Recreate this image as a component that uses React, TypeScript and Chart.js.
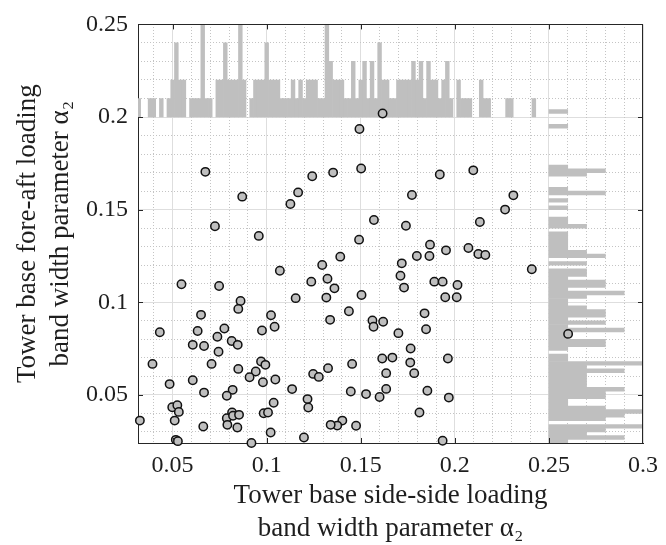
import React, { useEffect, useRef } from 'react';
import { Chart, registerables } from 'chart.js';
Chart.register(...registerables);

// ---------- axis ranges and ticks ----------
const X_MIN = 0.0316;
const X_MAX = 0.3;
const Y_MIN = 0.024;
const Y_MAX = 0.25;
const xMajorTicks = [0.05, 0.1, 0.15, 0.2, 0.25, 0.3];
const yMajorTicks = [0.05, 0.1, 0.15, 0.2, 0.25];
const MINOR_STEP = 0.01;

// ---------- scatter data ----------
const sideSideAlpha = [
  0.0674, 0.087, 0.1242, 0.1353, 0.1167, 0.1126, 0.0725, 0.0958, 0.1391, 0.1295,
  0.107, 0.1237, 0.1323, 0.136, 0.0547, 0.0747, 0.1493, 0.1502, 0.192, 0.2098,
  0.1772, 0.2311, 0.2267, 0.2133, 0.157, 0.174, 0.1491, 0.1868, 0.1953, 0.2072,
  0.1798, 0.1865, 0.2125, 0.2162, 0.1718, 0.1711, 0.1891, 0.1935, 0.2014, 0.2409,
  0.173, 0.0861, 0.0849, 0.0651, 0.1023, 0.1042, 0.0975, 0.0432, 0.0633, 0.0775,
  0.0738, 0.0814, 0.0846, 0.0607, 0.0667, 0.0744, 0.0393, 0.0707, 0.0849, 0.097,
  0.0993, 0.0942, 0.0909, 0.098, 0.1046, 0.0607, 0.0484, 0.0667, 0.0819, 0.0788,
  0.1135, 0.1217, 0.1221, 0.1247, 0.1277, 0.1326, 0.1154, 0.1317, 0.1337, 0.1437,
  0.0498, 0.0525, 0.0533, 0.0326, 0.0511, 0.0663, 0.0816, 0.0788, 0.0821, 0.0853,
  0.0791, 0.0844, 0.0984, 0.1007, 0.1037, 0.1021, 0.0517, 0.0528, 0.0919, 0.1198,
  0.1504, 0.1949, 0.201, 0.1562, 0.1568, 0.1619, 0.1839, 0.1847, 0.17, 0.1765,
  0.1614, 0.1668, 0.1763, 0.1963, 0.1454, 0.1635, 0.1784, 0.1447, 0.1528, 0.16,
  0.1635, 0.1854, 0.1968, 0.1812, 0.1402, 0.1375, 0.134, 0.1475, 0.1935, 0.1616,
  0.2602,
];
const foreAftAlpha = [
  0.1704, 0.157, 0.168, 0.17, 0.1593, 0.153, 0.141, 0.1358, 0.1246, 0.1201,
  0.117, 0.1111, 0.1127, 0.1075, 0.1097, 0.1088, 0.1935, 0.1722, 0.169, 0.1712,
  0.1579, 0.1577, 0.15, 0.1433, 0.1444, 0.1413, 0.1338, 0.1311, 0.128, 0.1293,
  0.125, 0.125, 0.126, 0.1255, 0.121, 0.1143, 0.1111, 0.1111, 0.1093, 0.1178,
  0.1079, 0.1007, 0.0964, 0.0932, 0.093, 0.0868, 0.0847, 0.0838, 0.0845, 0.0858,
  0.0814, 0.0791, 0.077, 0.077, 0.0764, 0.0733, 0.0667, 0.0667, 0.064, 0.068,
  0.0662, 0.0626, 0.0595, 0.0568, 0.0583, 0.0579, 0.0558, 0.0512, 0.0527, 0.0495,
  0.0531, 0.0477, 0.0432, 0.0613, 0.0597, 0.0644, 0.1022, 0.1025, 0.0905, 0.0951,
  0.0433, 0.0444, 0.0408, 0.0361, 0.0361, 0.0329, 0.0405, 0.0374, 0.0387, 0.0392,
  0.0338, 0.0324, 0.0401, 0.0405, 0.0457, 0.0297, 0.0257, 0.025, 0.024, 0.027,
  0.1039, 0.1027, 0.1027, 0.0901, 0.0868, 0.0895, 0.094, 0.0854, 0.0833, 0.075,
  0.0696, 0.0701, 0.0674, 0.0696, 0.0667, 0.0617, 0.0617, 0.0518, 0.0504, 0.0488,
  0.0532, 0.0522, 0.0485, 0.0405, 0.0361, 0.0334, 0.0338, 0.0333, 0.0252, 0.2019,
  0.0829,
];

// ---------- marginal histograms ----------
const HIST_BIN = 0.002;
const HIST_UNIT = 0.01; // one count in axis units
const topHistBase = 0.2;   // baseline (y) of the side-side histogram
const rightHistBase = 0.25; // baseline (x) of the fore-aft histogram
const topHistFirstCenter = 0.032;
const topHistCounts = [
  1, 0, 0, 1, 1, 0, 1, 0, 1, 2,
  4, 2, 2, 0, 1, 1, 1, 5, 1, 1,
  0, 2, 2, 4, 2, 2, 2, 5, 2, 0,
  1, 2, 2, 2, 4, 2, 2, 2, 1, 1,
  1, 2, 1, 2, 1, 2, 2, 2, 1, 1,
  5, 3, 2, 2, 2, 1, 1, 3, 1, 2,
  3, 1, 3, 1, 4, 2, 2, 1, 1, 2,
  2, 2, 2, 3, 2, 3, 1, 3, 2, 2,
  1, 2, 3, 1, 0, 2, 1, 1, 1, 0,
  0, 2, 1, 1, 0, 0, 0, 0, 1, 1,
  0, 0, 0, 0, 0, 1,
];
const rightHistFirstCenter = 0.025;
const rightHistCounts = [
  1, 4, 2, 3, 5, 0, 3, 4, 5, 3,
  1, 1, 3, 3, 4, 2, 2, 2, 2, 4,
  2, 5, 1, 1, 0, 1, 3, 3, 1, 1,
  4, 1, 3, 1, 3, 3, 2, 1, 1, 2,
  4, 1, 3, 3, 1, 2, 2, 0, 2, 0,
  3, 2, 1, 1, 1, 1, 1, 0, 2, 1,
  1, 0, 0, 1, 0, 1, 0, 3, 1, 0,
  0, 0, 2, 3, 1, 0, 0, 0, 0, 0,
  0, 0, 0, 0, 0, 1, 0, 0, 0, 1,
  0,
];

// ---------- text ----------
const xTitle = ['Tower base side-side loading', 'band width parameter \u03b1\u2082'];
const yTitle = ['Tower base fore-aft loading', 'band width parameter \u03b1\u2082'];

const FONT = "'Liberation Serif', 'Times New Roman', serif";
const TEXT = '#1e1e1e';
const AXIS = '#262626';
const MAJOR_GRID = '#dedede';
const MINOR_GRID = '#c4c4c4';
const HIST = '#bfbfbf';

const r4 = (v: number) => Math.round(v * 10000) / 10000;

function minorTicks(min: number, max: number, majors: number[]) {
  const out: { value: number }[] = [];
  for (let i = Math.ceil(min / MINOR_STEP); i * MINOR_STEP <= max + 1e-9; i++) {
    const v = r4(i * MINOR_STEP);
    if (v <= min || v >= max) continue;
    if (majors.some((m) => Math.abs(m - v) < 1e-6)) continue;
    out.push({ value: v });
  }
  return out;
}

// inward tick marks on all four sides plus the top / right frame lines
const frameAndTicks = {
  id: 'frameAndTicks',
  afterDraw(chart: any) {
    const { ctx, chartArea: a, scales } = chart;
    const L = 5;
    ctx.save();
    ctx.strokeStyle = AXIS;
    ctx.lineWidth = 1;
    ctx.beginPath();
    const top = Math.round(a.top) + 0.5;
    const right = Math.round(a.right) - 0.5;
    ctx.moveTo(Math.round(a.left), top);
    ctx.lineTo(Math.round(a.right), top);
    ctx.moveTo(right, Math.round(a.top));
    ctx.lineTo(right, Math.round(a.bottom));
    for (const v of xMajorTicks) {
      const p = Math.round(scales.x.getPixelForValue(v)) + 0.5;
      if (p < a.left + 2 || p > a.right - 2) continue;
      ctx.moveTo(p, a.bottom);
      ctx.lineTo(p, a.bottom - L);
      ctx.moveTo(p, a.top);
      ctx.lineTo(p, a.top + L);
    }
    for (const v of yMajorTicks) {
      const p = Math.round(scales.y.getPixelForValue(v)) + 0.5;
      if (p < a.top + 2 || p > a.bottom - 2) continue;
      ctx.moveTo(a.left, p);
      ctx.lineTo(a.left + L, p);
      ctx.moveTo(a.right, p);
      ctx.lineTo(a.right - L, p);
    }
    ctx.stroke();
    ctx.restore();
  },
};

export default function App() {
  const ref = useRef<HTMLCanvasElement>(null);

  useEffect(() => {
    const points = sideSideAlpha.map((x, i) => ({ x, y: foreAftAlpha[i] }));
    const topBars = topHistCounts
      .map((c, i) => ({ x: r4(topHistFirstCenter + i * HIST_BIN), y: [topHistBase, r4(topHistBase + c * HIST_UNIT)], c }))
      .filter((d) => d.c > 0)
      .map(({ x, y }) => ({ x, y }));
    const rightBars = rightHistCounts
      .map((c, i) => ({ y: r4(rightHistFirstCenter + i * HIST_BIN), x: [rightHistBase, r4(rightHistBase + c * HIST_UNIT)], c }))
      .filter((d) => d.c > 0)
      .map(({ x, y }) => ({ x, y }));

    const tickFont = { family: FONT, size: 24 };
    const titleFont = { family: FONT, size: 27 };
    const fmt = (v: number) => String(Math.round(v * 100) / 100);
    const noOffset = { offset: false };

    const chart = new Chart(ref.current as HTMLCanvasElement, {
      type: 'scatter',
      data: {
        datasets: [
          {
            type: 'scatter',
            data: points,
            xAxisID: 'x',
            yAxisID: 'y',
            backgroundColor: '#bfbfbf',
            borderColor: '#111111',
            pointRadius: 4.2,
            pointBorderWidth: 1.5,
            pointHoverRadius: 4.2,
            clip: false as any,
            order: 0,
          } as any,
          {
            type: 'bar',
            data: topBars as any,
            xAxisID: 'x',
            yAxisID: 'yh',
            backgroundColor: HIST,
            borderWidth: 0,
            barPercentage: 1,
            categoryPercentage: 1,
            grouped: false,
            order: 1,
          } as any,
          {
            type: 'bar',
            indexAxis: 'y',
            data: rightBars as any,
            xAxisID: 'xh',
            yAxisID: 'y',
            backgroundColor: HIST,
            borderWidth: 0,
            barPercentage: 1,
            categoryPercentage: 1,
            grouped: false,
            order: 2,
          } as any,
        ],
      },
      options: {
        animation: false,
        responsive: false,
        devicePixelRatio: 1,
        events: [],
        layout: { padding: { left: 0, top: 23, right: 19, bottom: 0 } },
        plugins: { legend: { display: false }, tooltip: { enabled: false } },
        scales: {
          x: {
            type: 'linear',
            axis: 'x',
            position: 'bottom',
            offset: false,
            min: X_MIN,
            max: X_MAX,
            afterBuildTicks: (s: any) => { s.ticks = xMajorTicks.map((value) => ({ value })); },
            afterFit: (s: any) => { s.height = 102; },
            ticks: { font: tickFont, color: TEXT, padding: 8, autoSkip: false, maxRotation: 0, callback: (v: any) => fmt(Number(v)) },
            grid: { ...noOffset, color: MAJOR_GRID, lineWidth: 1, drawTicks: false },
            border: { display: true, color: AXIS, width: 1 },
            title: { display: true, text: xTitle, font: titleFont, color: TEXT, padding: { top: 0, bottom: 0 } },
          },
          y: {
            type: 'linear',
            axis: 'y',
            position: 'left',
            offset: false,
            min: Y_MIN,
            max: Y_MAX,
            afterBuildTicks: (s: any) => { s.ticks = yMajorTicks.map((value) => ({ value })); },
            afterFit: (s: any) => { s.width = 138; },
            ticks: { font: tickFont, color: TEXT, padding: 10, autoSkip: false, callback: (v: any) => fmt(Number(v)) },
            grid: { ...noOffset, color: MAJOR_GRID, lineWidth: 1, drawTicks: false },
            border: { display: true, color: AXIS, width: 1 },
            title: { display: true, text: yTitle, font: titleFont, color: TEXT, padding: { top: 12, bottom: 0 } },
          },
          xm: {
            type: 'linear',
            axis: 'x',
            position: 'top',
            offset: false,
            min: X_MIN,
            max: X_MAX,
            afterBuildTicks: (s: any) => { s.ticks = minorTicks(X_MIN, X_MAX, xMajorTicks); },
            afterFit: (s: any) => { s.height = 0; },
            ticks: { display: false },
            grid: { ...noOffset, color: MINOR_GRID, lineWidth: 1, drawTicks: false },
            border: { display: false, dash: [1, 2] },
          },
          ym: {
            type: 'linear',
            axis: 'y',
            position: 'right',
            offset: false,
            min: Y_MIN,
            max: Y_MAX,
            afterBuildTicks: (s: any) => { s.ticks = minorTicks(Y_MIN, Y_MAX, yMajorTicks); },
            afterFit: (s: any) => { s.width = 0; },
            ticks: { display: false },
            grid: { ...noOffset, color: MINOR_GRID, lineWidth: 1, drawTicks: false },
            border: { display: false, dash: [1, 2] },
          },
          xh: { type: 'linear', axis: 'x', display: false, offset: false, min: X_MIN, max: X_MAX },
          yh: { type: 'linear', axis: 'y', display: false, offset: false, min: Y_MIN, max: Y_MAX },
        } as any,
      },
      plugins: [frameAndTicks],
    } as any);
    return () => chart.destroy();
  }, []);

  return (
    <div style={{ position: 'fixed', left: 0, top: 0, width: 666, height: 545, background: '#ffffff' }}>
      <canvas ref={ref} width={666} height={545} style={{ display: 'block', width: 666, height: 545 }} />
    </div>
  );
}
